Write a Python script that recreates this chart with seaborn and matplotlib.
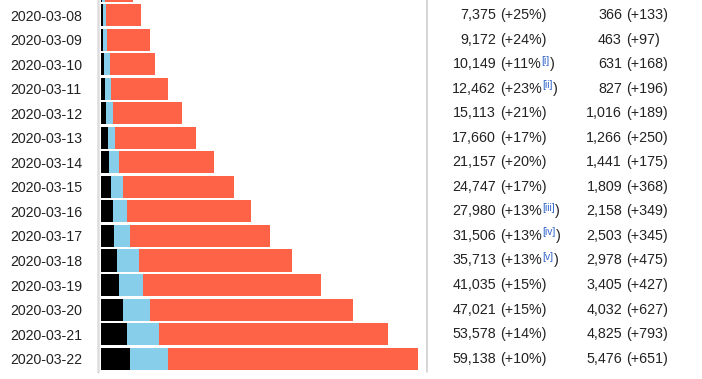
import numpy as np
import pandas as pd
import matplotlib
matplotlib.use('Agg')
import matplotlib.pyplot as plt
import matplotlib.transforms as mtransforms
from matplotlib.lines import Line2D
import seaborn as sns

# data (Italy, daily cumulative)
dates = ['2020-03-07', '2020-03-08', '2020-03-09', '2020-03-10', '2020-03-11',
         '2020-03-12', '2020-03-13', '2020-03-14', '2020-03-15', '2020-03-16',
         '2020-03-17', '2020-03-18', '2020-03-19', '2020-03-20', '2020-03-21',
         '2020-03-22']
cases = [5883, 7375, 9172, 10149, 12462, 15113, 17660, 21157, 24747, 27980,
         31506, 35713, 41035, 47021, 53578, 59138]
deaths = [233, 366, 463, 631, 827, 1016, 1266, 1441, 1809, 2158,
          2503, 2978, 3405, 4032, 4825, 5476]
recovered = [589, 622, 724, 1004, 1045, 1258, 1439, 1966, 2335, 2749,
             2941, 4025, 4440, 5129, 6072, 7024]
case_growth = ['+27%', '+25%', '+24%', '+11%', '+23%', '+21%', '+17%', '+20%',
               '+17%', '+13%', '+13%', '+13%', '+15%', '+15%', '+14%', '+10%']
case_notes = ['', '', '', 'i', 'ii', '', '', '', '', 'iii', 'iv', 'v', '', '', '', '']
death_change = ['+36', '+133', '+97', '+168', '+196', '+189', '+250', '+175',
                '+368', '+349', '+345', '+475', '+427', '+627', '+793', '+651']

df = pd.DataFrame({'date': dates, 'total': cases, 'deaths': deaths,
                   'closed': np.array(deaths) + np.array(recovered)})

sns.set_style('white')
plt.rcParams['font.family'] = ['Liberation Sans', 'DejaVu Sans']

W, H = 702, 379
fig = plt.figure(figsize=(W / 100, H / 100), dpi=100)
ax = fig.add_axes([101 / W, 0, 317 / W, 1])

# stacked bars: total (active) -> deaths+recovered -> deaths
for col_name, c in [('total', 'tomato'), ('closed', 'skyblue'), ('deaths', 'black')]:
    sns.barplot(data=df, y='date', x=col_name, color=c, saturation=1,
                width=0.9, errorbar=None, orient='h', linewidth=0, ax=ax)

ax.set_xlim(0, max(cases))
ax.set_ylim(15.83, 0.387)
ax.set_xlabel('')
ax.set_ylabel('')
ax.set_xticks([])
ax.tick_params(axis='y', length=0, pad=13.7, labelsize=10.2, labelcolor='#222222')
for s in ax.spines.values():
    s.set_visible(False)
ax.patch.set_alpha(0)

# separators
fig.add_artist(Line2D([97.5 / W, 97.5 / W], [1, 1 - 372 / H], color='#dddddd',
                      lw=1.8, transform=fig.transFigure))
fig.add_artist(Line2D([427.5 / W, 427.5 / W], [1, 1 - 372 / H], color='#cccccc',
                      lw=1.1, transform=fig.transFigure))

trans = mtransforms.blended_transform_factory(fig.transFigure, ax.transData)
fs = 10.3
col = '#222222'
pending = []
# first row sits above the visible area, so only its bar shows
for i in range(1, len(dates)):
    fig.text(496 / W, i, f'{cases[i]:,}', transform=trans, ha='right', va='center',
             fontsize=fs, color=col)
    t = fig.text(500 / W, i, '(' + case_growth[i] + ('' if case_notes[i] else ')'),
                 transform=trans, ha='left', va='center', fontsize=fs, color=col)
    if case_notes[i]:
        pending.append((i, t))
    fig.text(622 / W, i, f'{deaths[i]:,}', transform=trans, ha='right', va='center',
             fontsize=fs, color=col)
    fig.text(626 / W, i, '(' + death_change[i] + ')', transform=trans, ha='left',
             va='center', fontsize=fs, color=col)

# superscript notes
fig.canvas.draw()
r = fig.canvas.get_renderer()
up = mtransforms.ScaledTranslation(0, 2.5 / 72, fig.dpi_scale_trans)
sups = []
for i, t in pending:
    x1 = t.get_window_extent(r).x1
    s = fig.text(x1 / W + 0.5 / W, i, '[' + case_notes[i] + ']', transform=trans + up,
                 ha='left', va='center', fontsize=7.4, color='#3366cc')
    sups.append((i, s))
fig.canvas.draw()
for i, s in sups:
    x1 = s.get_window_extent(r).x1
    fig.text(x1 / W + 0.5 / W, i, ')', transform=trans, ha='left', va='center',
             fontsize=fs, color=col)

fig.savefig('out.png', dpi=100)
